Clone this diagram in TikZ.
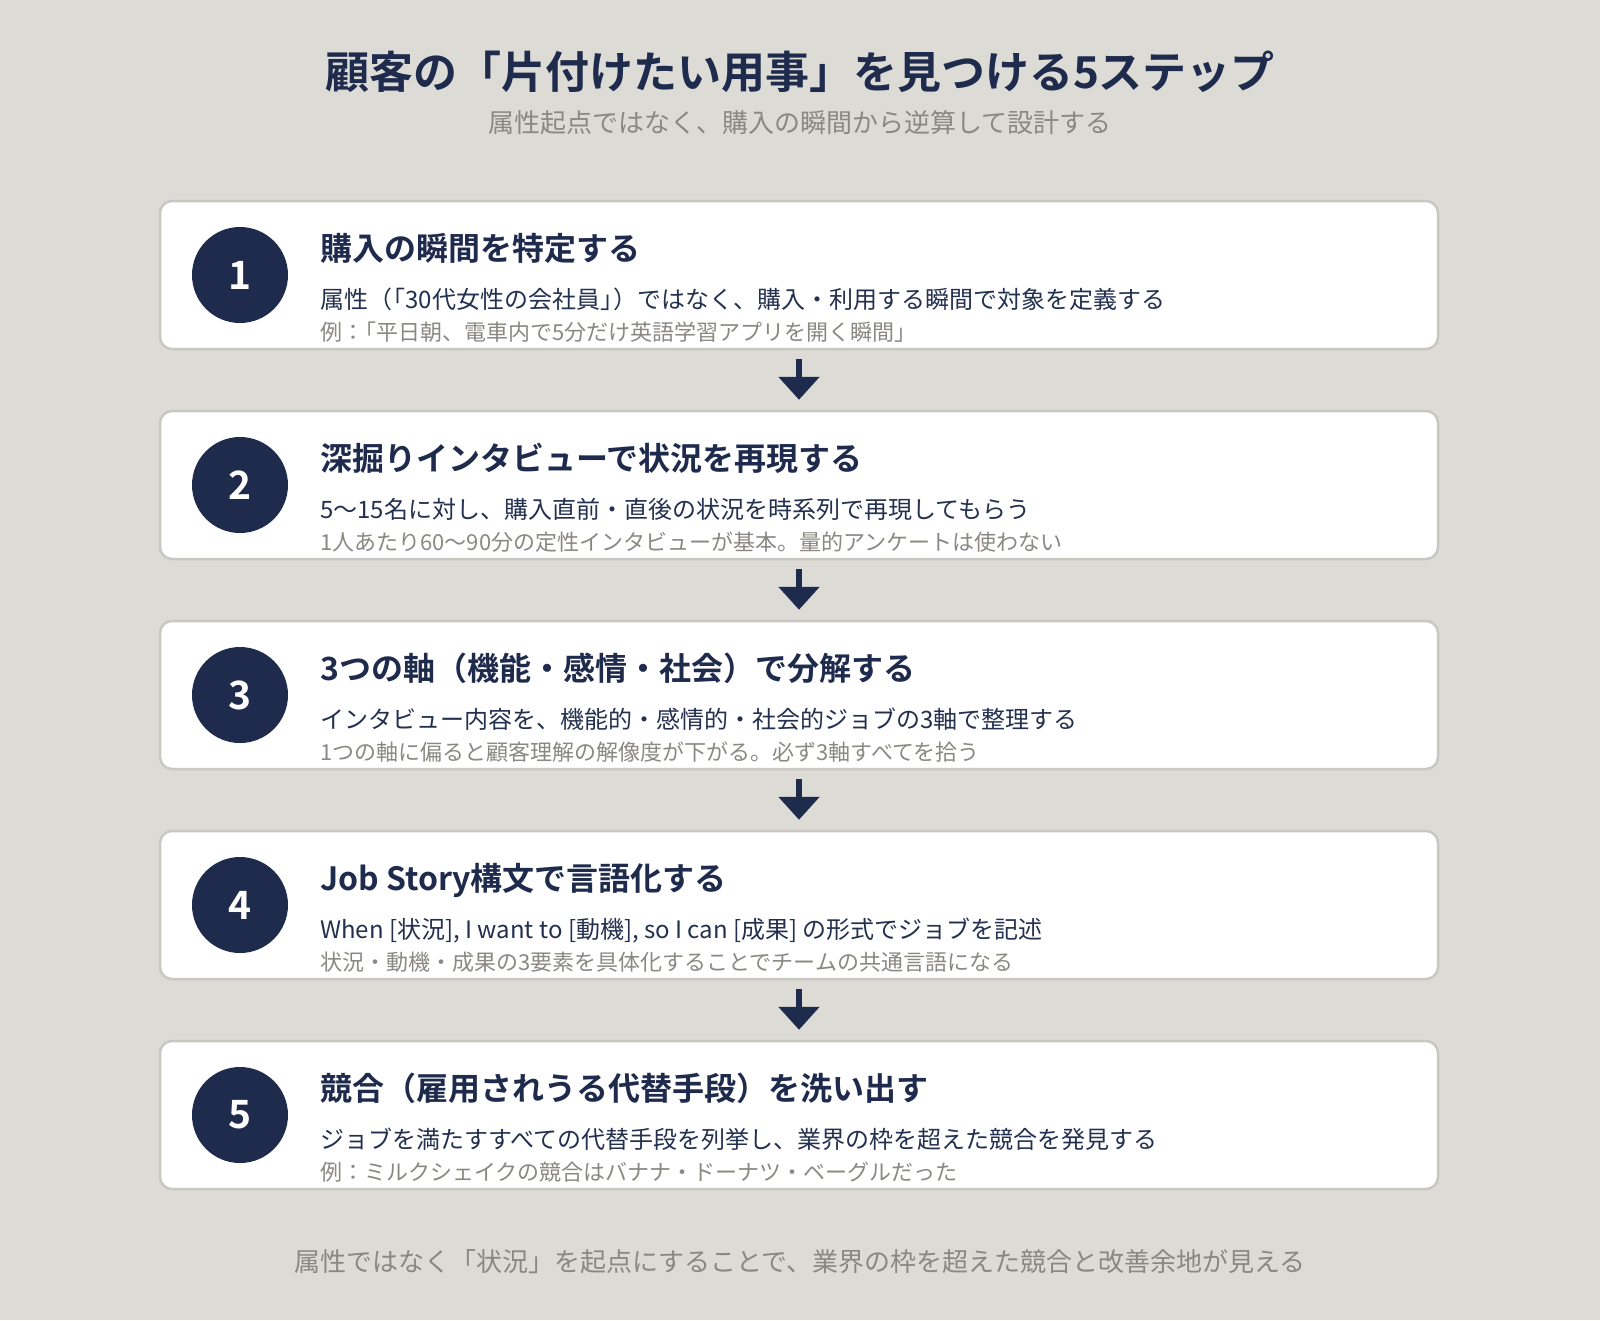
\documentclass[tikz,border=0pt]{standalone}
\usepackage{fontspec}
\setmainfont{Noto Sans CJK JP}[BoldFont={Noto Sans CJK JP Bold}]
\usetikzlibrary{arrows.meta}
\definecolor{bg}{HTML}{DCDBD6}
\definecolor{navy}{HTML}{1F2B4D}
\definecolor{bodytxt}{HTML}{24304F}
\definecolor{graytxt}{HTML}{8A8882}
\definecolor{cardline}{HTML}{C8C7C2}
\newcommand{\tightk}{\kern-0.45em}
\tikzset{
  card/.style={draw=cardline, line width=2.5pt, fill=white, rounded corners=12pt,
    minimum width=1278pt, minimum height=148pt, inner sep=0pt},
  numcircle/.style={circle, fill=navy, minimum size=96pt, inner sep=0pt,
    text=white, font=\fontsize{39}{40}\selectfont\bfseries},
  heading/.style={anchor=base west, inner sep=0pt, text=navy,
    font=\fontsize{32}{36}\selectfont\bfseries},
  bodyline/.style={anchor=base west, inner sep=0pt, text=bodytxt,
    font=\fontsize{24}{28}\selectfont},
  exline/.style={anchor=base west, inner sep=0pt, text=graytxt,
    font=\fontsize{22}{26}\selectfont},
  flowarrow/.style={draw=navy, line width=6pt, -{Triangle[width=40pt,length=23pt]}},
}
\begin{document}
\begin{tikzpicture}[x=1pt,y=-1pt]
\useasboundingbox (0,0) rectangle (1600,1320);
\fill[bg] (0,0) rectangle (1600,1320);

\node[anchor=base, inner sep=0pt, text=navy, font=\fontsize{44}{50}\selectfont\bfseries] (title) at (800,88) {顧客の「片付けたい用事」を見つける5ステップ};
\node[anchor=base, inner sep=0pt, text=graytxt, font=\fontsize{26}{30}\selectfont] (subtitle) at (800,132) {属性起点ではなく、購入の瞬間から逆算して設計する};

% card 1
\node[card] (c1) at (799,275) {};
\node[numcircle] (n1) at (240,275) {1};
\node[heading] (h1) at (320,260.5) {購入の瞬間を特定する};
\node[bodyline] (b1) at (320,308) {属性（\tightk「30代女性の会社員」\tightk）ではなく、購入・利用する瞬間で対象を定義する};
\node[exline] (e1) at (320,340) {例：\tightk「平日朝、電車内で5分だけ英語学習アプリを開く瞬間」};

% card 2
\node[card] (c2) at (799,485) {};
\node[numcircle] (n2) at (240,485) {2};
\node[heading] (h2) at (320,470.5) {深掘りインタビューで状況を再現する};
\node[bodyline] (b2) at (320,518) {5〜15名に対し、購入直前・直後の状況を時系列で再現してもらう};
\node[exline] (e2) at (320,550) {1人あたり60〜90分の定性インタビューが基本。量的アンケートは使わない};

% card 3
\node[card] (c3) at (799,695) {};
\node[numcircle] (n3) at (240,695) {3};
\node[heading] (h3) at (320,680.5) {3つの軸（機能・感情・社会）で分解する};
\node[bodyline] (b3) at (320,728) {インタビュー内容を、機能的・感情的・社会的ジョブの3軸で整理する};
\node[exline] (e3) at (320,760) {1つの軸に偏ると顧客理解の解像度が下がる。必ず3軸すべてを拾う};

% card 4
\node[card] (c4) at (799,905) {};
\node[numcircle] (n4) at (240,905) {4};
\node[heading] (h4) at (320,890.5) {Job Story構文で言語化する};
\node[bodyline] (b4) at (320,938) {When [状況], I want to [動機], so I can [成果] の形式でジョブを記述};
\node[exline] (e4) at (320,970) {状況・動機・成果の3要素を具体化することでチームの共通言語になる};

% card 5
\node[card] (c5) at (799,1115) {};
\node[numcircle] (n5) at (240,1115) {5};
\node[heading] (h5) at (320,1100.5) {競合（雇用されうる代替手段）を洗い出す};
\node[bodyline] (b5) at (320,1148) {ジョブを満たすすべての代替手段を列挙し、業界の枠を超えた競合を発見する};
\node[exline] (e5) at (320,1180) {例：ミルクシェイクの競合はバナナ・ドーナツ・ベーグルだった};

% arrows
\draw[flowarrow] ([yshift=-9pt]c1.south) -- ([yshift=10pt]c2.north);
\draw[flowarrow] ([yshift=-9pt]c2.south) -- ([yshift=10pt]c3.north);
\draw[flowarrow] ([yshift=-9pt]c3.south) -- ([yshift=10pt]c4.north);
\draw[flowarrow] ([yshift=-9pt]c4.south) -- ([yshift=10pt]c5.north);

\node[anchor=base, inner sep=0pt, text=graytxt, font=\fontsize{26}{30}\selectfont] (footer) at (800,1271) {属性ではなく「状況」を起点にすることで、業界の枠を超えた競合と改善余地が見える};
\end{tikzpicture}
\end{document}
